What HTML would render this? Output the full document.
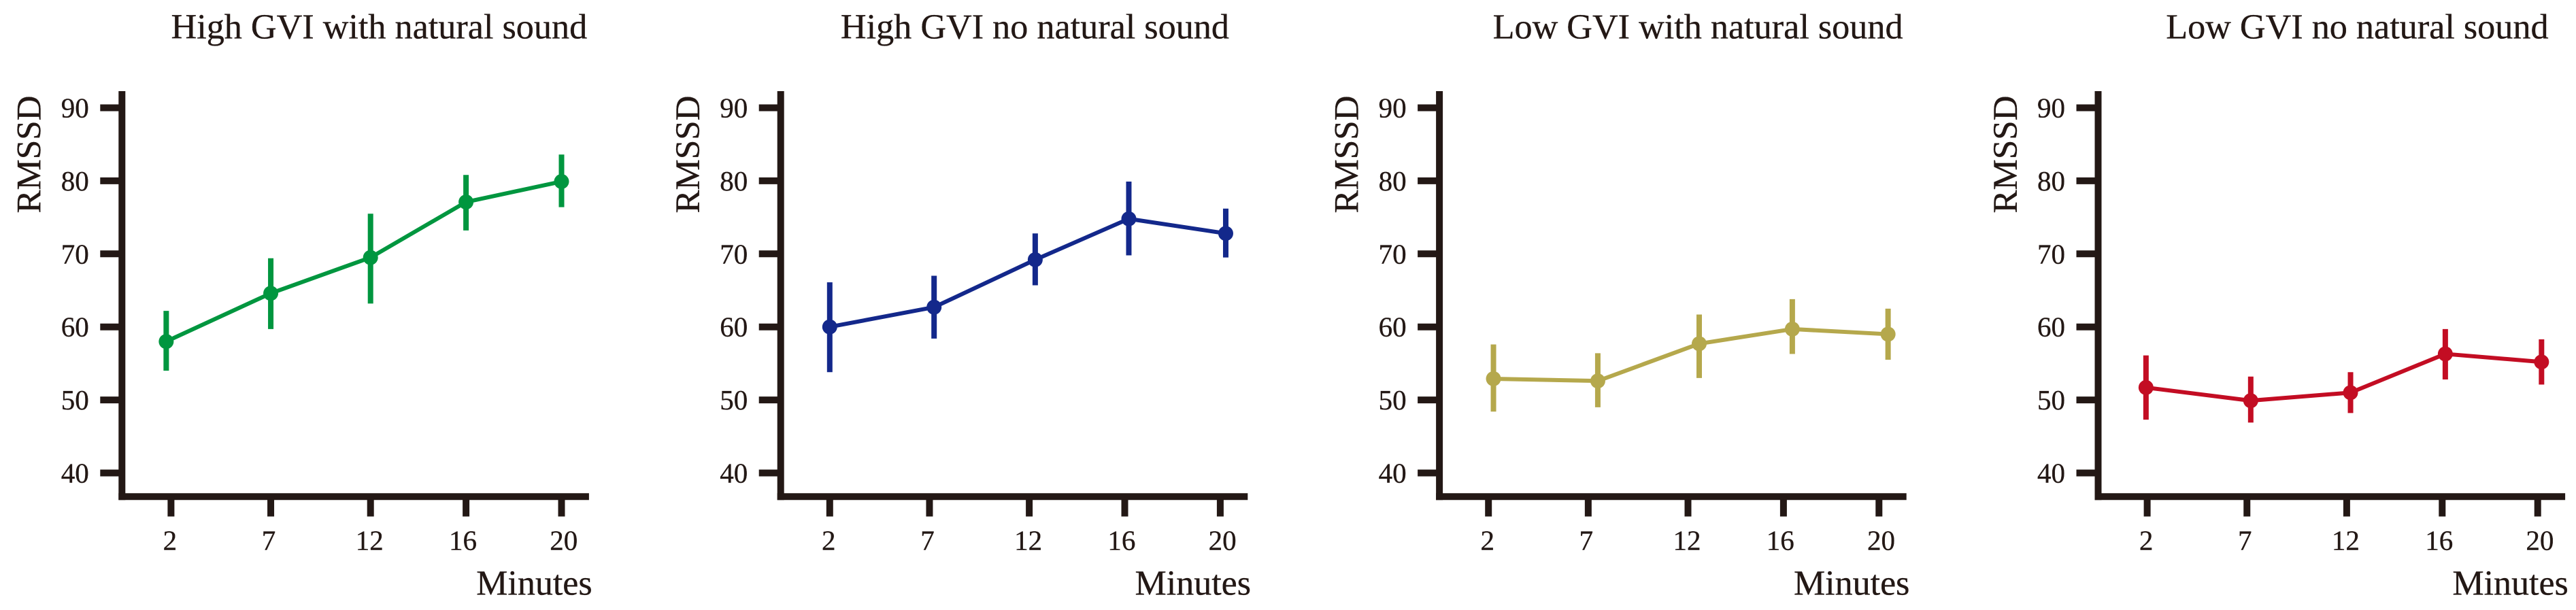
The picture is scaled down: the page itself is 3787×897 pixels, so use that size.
<!DOCTYPE html>
<html lang="en">
<head>
<meta charset="utf-8">
<title>RMSSD over time by condition</title>
<style>
  html, body { margin: 0; padding: 0; background: #ffffff; }
  body { width: 3787px; height: 897px; overflow: hidden; }
  svg { display: block; }
  text { font-family: "Liberation Serif", "Times New Roman", serif; fill: #231815; stroke: #231815; stroke-width: 0.35px; }
</style>
</head>
<body>
<svg id="chart" xmlns="http://www.w3.org/2000/svg" width="3787" height="897" viewBox="0 0 3787 897"></svg>
<script>
// Shared axis data
const minuteCategories = [2, 7, 12, 16, 20];
const rmssdTicks = [40, 50, 60, 70, 80, 90];

// Panel titles and colours
const panelTitles = ["High GVI with natural sound", "High GVI no natural sound", "Low GVI with natural sound", "Low GVI no natural sound"];
const panelSlugs = ["high-gvi-with-sound", "high-gvi-no-sound", "low-gvi-with-sound", "low-gvi-no-sound"];
const panelColors = ["#00963f", "#13288b", "#b5a84c", "#c30d23"];

// Series means (RMSSD)
const highWithMeans = [58.0, 64.6, 69.5, 77.1, 79.9];
const highNoMeans = [60.0, 62.7, 69.2, 74.8, 72.8];
const lowWithMeans = [52.9, 52.6, 57.7, 59.7, 59.0];
const lowNoMeans = [51.7, 49.9, 51.0, 56.3, 55.2];

// Error-bar upper limits
const highWithUpper = [62.2, 69.4, 75.5, 80.8, 83.6];
const highNoUpper = [66.1, 67.0, 72.8, 79.9, 76.2];
const lowWithUpper = [57.6, 56.4, 61.7, 63.8, 62.5];
const lowNoUpper = [56.1, 53.2, 53.8, 59.7, 58.3];

// Error-bar lower limits
const highWithLower = [54.0, 59.7, 63.2, 73.2, 76.4];
const highNoLower = [53.8, 58.4, 65.7, 69.8, 69.5];
const lowWithLower = [48.4, 49.0, 53.0, 56.3, 55.5];
const lowNoLower = [47.3, 46.9, 48.2, 52.8, 52.1];

// Measurement minute as read from the point position (points sit slightly off the ticks)
const highWithMinutes = [1.76, 7.0, 12.0, 16.0, 20.0];
const highNoMinutes = [2.0, 7.23, 12.25, 16.17, 20.23];
const lowWithMinutes = [2.25, 7.48, 12.47, 16.37, 20.38];
const lowNoMinutes = [1.94, 7.19, 12.16, 16.13, 20.16];

const allMeans = [highWithMeans, highNoMeans, lowWithMeans, lowNoMeans];
const allUpper = [highWithUpper, highNoUpper, lowWithUpper, lowNoUpper];
const allLower = [highWithLower, highNoLower, lowWithLower, lowNoLower];
const allMinutes = [highWithMinutes, highNoMinutes, lowWithMinutes, lowNoMinutes];

const AXIS_COLOR = "#231815";
const svg = document.getElementById("chart");

function make(tag, attrs, parent) {
  const node = document.createElementNS("http://www.w3.org/2000/svg", tag);
  for (const key in attrs) node.setAttribute(key, attrs[key]);
  parent.appendChild(node);
  return node;
}

// Axis functions
function panelOrigin(p) { return 179.3 + p * 968.4; }
function yScale(v) { return 695.5 - (v - 40) * 10.74; }
function xOffset(m) { return m <= 12 ? 72.1 + (m - 2) * 29.33 : 365.4 + (m - 12) * 35.1; }
function titleOffset(p) { return p === 0 ? 72.2 : p === 1 ? 88.2 : p === 2 ? 78.5 : 99.7; }
function labelNudge(m) { return m === 20 ? 3.2 : m === 16 ? -4.6 : m === 7 ? -3 : -1.5; }

for (let p = 0; p < 4; p++) {
  const ox = panelOrigin(p);
  const color = panelColors[p];
  const means = allMeans[p];
  const upper = allUpper[p];
  const lower = allLower[p];
  const minutes = allMinutes[p];
  const sx = m => ox + xOffset(m);

  const g = make("g", {}, svg);
  
  

  const title = make("text", { x: ox + titleOffset(p), y: 56.7, "font-size": 52.2 }, g);
  title.textContent = panelTitles[p];
  
  

  const yTitle = make("text", { transform: "translate(" + (ox - 119.6) + " 313.5) rotate(-90)", "font-size": 51 }, g);
  yTitle.textContent = "RMSSD";
  
  

  const xTitle = make("text", { x: ox + 691.3, y: 874.5, "font-size": 52, "text-anchor": "end" }, g);
  xTitle.textContent = "Minutes";
  
  

  const yAxis = make("line", { x1: ox, x2: ox, y1: 134, y2: 735.3, stroke: AXIS_COLOR, "stroke-width": 10 }, g);
  
  

  const xAxis = make("line", { x1: ox - 5, x2: ox + 686.6, y1: 730.3, y2: 730.3, stroke: AXIS_COLOR, "stroke-width": 10 }, g);
  
  

  rmssdTicks.forEach(function (t) {
    const tick = make("line", { x1: ox - 32, x2: ox, y1: yScale(t), y2: yScale(t), stroke: AXIS_COLOR, "stroke-width": 10 }, g);
    
    
    const label = make("text", { x: ox - 48.5, y: yScale(t) + 14, "font-size": 41, "text-anchor": "end" }, g);
    label.textContent = String(t);
    
    
  });

  minuteCategories.forEach(function (m) {
    const tick = make("line", { x1: sx(m), x2: sx(m), y1: 730, y2: 759.5, stroke: AXIS_COLOR, "stroke-width": 10 }, g);
    
    
    const label = make("text", { x: sx(m) + labelNudge(m), y: 808.6, "font-size": 41, "text-anchor": "middle" }, g);
    label.textContent = String(m);
    
    
  });

  const pts = means.map(function (v, i) { return sx(minutes[i]) + "," + yScale(v); }).join(" ");
  const line = make("polyline", { points: pts, fill: "none", stroke: color, "stroke-width": 6, "stroke-linejoin": "round" }, g);
  
  

  means.forEach(function (v, i) {
    const x = sx(minutes[i]);
    const bar = make("line", { x1: x, x2: x, y1: yScale(upper[i]), y2: yScale(lower[i]), stroke: color, "stroke-width": 8 }, g);
    
    
    const dot = make("circle", { cx: x, cy: yScale(v), r: 11, fill: color }, g);
    
    
  });
}
</script>
</body>
</html>
